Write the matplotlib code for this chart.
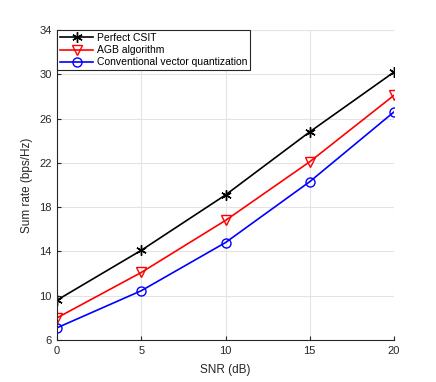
import numpy as np
import matplotlib
matplotlib.use('Agg')
import matplotlib.pyplot as plt

plt.rcParams['font.family'] = ['Liberation Sans', 'DejaVu Sans']

# data
snr = [0, 5, 10, 15, 20]
perfect_csit = [9.6, 14.1, 19.1, 24.8, 30.2]
agb = [8.0, 12.1, 16.8, 22.1, 28.1]
cvq = [7.1, 10.45, 14.8, 20.3, 26.6]

labels = ['Perfect CSIT', 'AGB algorithm', 'Conventional vector quantization']
xticks = [0, 5, 10, 15, 20]
yticks = [6, 10, 14, 18, 22, 26, 30, 34]

fig = plt.figure(figsize=(4.36, 3.82), dpi=100)
ax = fig.add_axes([57/436, 1-340/382, 337/436, 310/382])

ax.plot(snr, perfect_csit, 'k-', marker=(6, 2, 0), ms=7.5, mew=1.0, lw=1.2, label=labels[0])
ax.plot(snr, agb, 'r-', marker='v', ms=7.5, mfc='none', mew=1.0, lw=1.2, label=labels[1])
ax.plot(snr, cvq, 'b-', marker='o', ms=6.5, mfc='none', mew=1.0, lw=1.2, label=labels[2])

ax.set_xlim(0, 20)
ax.set_ylim(6, 34)
ax.set_xticks(xticks)
ax.set_yticks(yticks)
ax.grid(True, color='#e3e3e3', lw=0.8)
ax.set_axisbelow(True)
ax.tick_params(direction='in', labelsize=8, length=3, width=0.8, colors='#262626', pad=4)
for s in ['top', 'right']:
    ax.spines[s].set_visible(False)
for s in ['left', 'bottom']:
    ax.spines[s].set_color('#262626')
    ax.spines[s].set_linewidth(0.8)

ax.set_xlabel('SNR (dB)', fontsize=8.5, color='#262626', labelpad=6)
ax.set_ylabel('Sum rate (bps/Hz)', fontsize=8.5, color='#262626')

leg = ax.legend(loc='upper left', fontsize=7.5, fancybox=False, framealpha=1,
                edgecolor='#262626', borderaxespad=0, handlelength=3.2,
                borderpad=0.3, labelspacing=0.2, handletextpad=0.3)
leg.get_frame().set_linewidth(0.8)

fig.savefig('out.png', dpi=100)
